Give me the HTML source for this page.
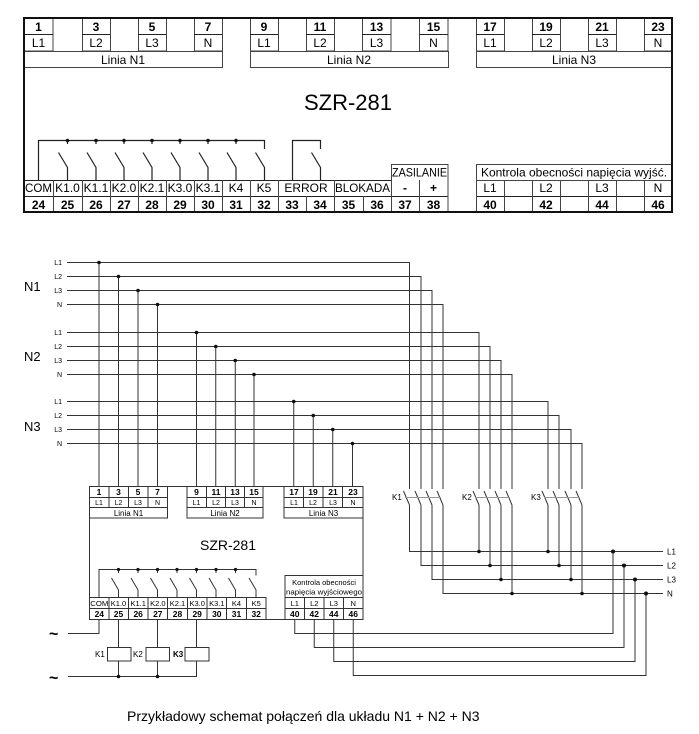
<!DOCTYPE html>
<html><head><meta charset="utf-8"><style>
html,body{margin:0;padding:0;background:#fff;}
svg{display:block;}
text{font-family:"Liberation Sans",Arial,sans-serif;fill:#000;}
.b{font-weight:bold;}
</style></head><body>
<svg width="699" height="734" viewBox="0 0 699 734" xmlns="http://www.w3.org/2000/svg">
<rect width="699" height="734" fill="#fff"/>
<!-- ===== TOP DEVICE ===== -->
<g fill="none" stroke="#444" stroke-width="1">
 <!-- top terminal cells -->
 <rect x="24.5" y="18.5" width="28.5" height="32.5"/><rect x="82.5" y="18.5" width="28" height="32.5"/><rect x="138.5" y="18.5" width="28" height="32.5"/><rect x="194.5" y="18.5" width="28" height="32.5"/>
 <rect x="250.5" y="18.5" width="28" height="32.5"/><rect x="306.5" y="18.5" width="28" height="32.5"/><rect x="362.5" y="18.5" width="28.5" height="32.5"/><rect x="419.5" y="18.5" width="28.5" height="32.5"/>
 <rect x="476.5" y="18.5" width="28" height="32.5"/><rect x="532.5" y="18.5" width="28" height="32.5"/><rect x="588.5" y="18.5" width="28" height="32.5"/><rect x="644.5" y="18.5" width="27.5" height="32.5"/>
 <path d="M24 34.5H53M82 34.5H110M138 34.5H166M194 34.5H222M250 34.5H278M306 34.5H334M362 34.5H391M419 34.5H448M476 34.5H504M532 34.5H560M588 34.5H616M644 34.5H672" stroke="#222"/>
 <rect x="24.5" y="51.5" width="198" height="16"/><rect x="250.5" y="51.5" width="198" height="16"/><rect x="476.5" y="51.5" width="195.5" height="16"/>
 <!-- bottom terminals -->
 <path d="M24 180.5H391M24 196.5H448M476 196.5H672" stroke="#222"/>
 <path d="M53.5 180V212M82.5 180V212M110.5 180V212M138.5 180V212M166.5 180V212M194.5 180V212M222.5 180V212M250.5 180V212M278.5 180V212M334.5 180V212M419.5 180V212"/>
 <path d="M306.5 196V212M363.5 196V212"/>
 <rect x="391.5" y="164.5" width="56.5" height="47.5"/>
 <rect x="476.5" y="164.5" width="195.5" height="47.5"/>
 <path d="M476 180.5H672M504.5 180V212M532.5 180V212M560.5 180V212M588.5 180V212M616.5 180V212M644.5 180V212"/>
</g>
<rect x="24" y="18" width="648" height="194" fill="none" stroke="#111" stroke-width="2"/>
<!-- top relays -->
<g fill="none" stroke="#222" stroke-width="1.2">
 <path d="M38.5 180V140.5H264.5V149"/>
 <path d="M67.5 140V144M96 140V144M124 140V144M152 140V144M180 140V144M208 140V144M236 140V144"/>
 <path d="M58.5 152.5L67.5 167.5V180M87 152.5L96 167.5V180M115 152.5L124 167.5V180M143 152.5L152 167.5V180M171 152.5L180 167.5V180M199 152.5L208 167.5V180M227 152.5L236 167.5V180M255.5 152.5L264.5 167.5V180"/>
 <path d="M292.5 180V140.5H320.5V149M311.5 152.5L320.5 167.5V180"/>
</g>
<g fill="#111">
 <circle cx="67.5" cy="140.5" r="1.8"/><circle cx="96" cy="140.5" r="1.8"/><circle cx="124" cy="140.5" r="1.8"/><circle cx="152" cy="140.5" r="1.8"/><circle cx="180" cy="140.5" r="1.8"/><circle cx="208" cy="140.5" r="1.8"/><circle cx="236" cy="140.5" r="1.8"/>
</g>
<!-- top texts -->
<g font-size="12" text-anchor="middle">
 <g class="b">
  <text x="38.5" y="31" class="b">1</text><text x="96" y="31" class="b">3</text><text x="152" y="31" class="b">5</text><text x="208" y="31" class="b">7</text>
  <text x="264" y="31" class="b">9</text><text x="320" y="31" class="b">11</text><text x="376.5" y="31" class="b">13</text><text x="433.5" y="31" class="b">15</text>
  <text x="490" y="31" class="b">17</text><text x="546" y="31" class="b">19</text><text x="602" y="31" class="b">21</text><text x="658" y="31" class="b">23</text>
 </g>
 <text x="38.5" y="47">L1</text><text x="96" y="47">L2</text><text x="152" y="47">L3</text><text x="208" y="47">N</text>
 <text x="264" y="47">L1</text><text x="320" y="47">L2</text><text x="376.5" y="47">L3</text><text x="433.5" y="47">N</text>
 <text x="490" y="47">L1</text><text x="546" y="47">L2</text><text x="602" y="47">L3</text><text x="658" y="47">N</text>
 <text x="123" y="64">Linia N1</text><text x="349" y="64">Linia N2</text><text x="574" y="64">Linia N3</text>
 <text x="348" y="110" font-size="22">SZR-281</text>
 <text x="38.5" y="192" textLength="27" lengthAdjust="spacingAndGlyphs">COM</text><text x="67.5" y="192">K1.0</text><text x="96" y="192">K1.1</text><text x="124" y="192">K2.0</text><text x="152" y="192">K2.1</text><text x="180" y="192">K3.0</text><text x="208" y="192">K3.1</text><text x="236" y="192">K4</text><text x="264" y="192">K5</text>
 <text x="306" y="192">ERROR</text><text x="362.5" y="192" textLength="55" lengthAdjust="spacingAndGlyphs">BLOKADA</text>
 <text x="405" y="192" class="b">-</text><text x="433.5" y="192" class="b">+</text>
 <text x="419.5" y="176.5" textLength="55" lengthAdjust="spacingAndGlyphs">ZASILANIE</text>
 <text x="574" y="176.5">Kontrola obecności napięcia wyjść.</text>
 <text x="490" y="192">L1</text><text x="546" y="192">L2</text><text x="602" y="192">L3</text><text x="658" y="192">N</text>
 <g class="b">
  <text x="38.5" y="209" class="b">24</text><text x="67.5" y="209" class="b">25</text><text x="96" y="209" class="b">26</text><text x="124" y="209" class="b">27</text><text x="152" y="209" class="b">28</text><text x="180" y="209" class="b">29</text><text x="208" y="209" class="b">30</text><text x="236" y="209" class="b">31</text><text x="264" y="209" class="b">32</text><text x="292" y="209" class="b">33</text><text x="320" y="209" class="b">34</text><text x="348.5" y="209" class="b">35</text><text x="377" y="209" class="b">36</text><text x="405" y="209" class="b">37</text><text x="433.5" y="209" class="b">38</text>
  <text x="490" y="209" class="b">40</text><text x="546" y="209" class="b">42</text><text x="602" y="209" class="b">44</text><text x="658" y="209" class="b">46</text>
 </g>
</g>

<!-- ===== LOWER DIAGRAM ===== -->
<g fill="none" stroke="#333" stroke-width="1">
 <!-- buses -->
 <path d="M67 262.5H409.5V489M67 276.5H421V489M67 290.5H432V489M67 304.5H443V489"/>
 <path d="M67 332.5H479V489M67 346.5H490V489M67 360.5H501V489M67 374.5H512V489"/>
 <path d="M67 401.5H548V489M67 415.5H559V489M67 429.5H571V489M67 443.5H582V489"/>
 <!-- drops -->
 <path d="M99 262V486M118.5 276V486M138 290V486M157.5 304V486M196.5 332V486M215.75 346V486M235.25 360V486M254 374V486M293.75 401V486M313.25 415V486M332.75 429V486M352.5 443V486"/>
 <!-- switch blades -->
 <path d="M403.5 491L409.5 505M415 491L421 505M426 491L432 505M437 491L443 505"/>
 <path d="M473 491L479 505M484 491L490 505M495 491L501 505M506 491L512 505"/>
 <path d="M542 491L548 505M553 491L559 505M565 491L571 505M576 491L582 505"/>
 <!-- lower switch legs -->
 <path d="M409.5 505V551.5H663M421 505V565.5H663M432 505V579.5H663M443 505V593.5H663"/>
 <path d="M479 505V551M490 505V565M501 505V579M512 505V593M548 505V551M559 505V565M571 505V579M582 505V593"/>
 <!-- kontrola wires -->
 <path d="M294.75 619V633.5H613V551M314.25 619V647.5H624V565M333.75 619V661.5H635V579M353.25 619V675.5H646V593"/>
</g>
<g stroke="#999" stroke-width="1">
 <path d="M405 497.5H441M475 497.5H510M544 497.5H580"/>
</g>
<g fill="#111">
 <circle cx="99" cy="262.5" r="1.8"/><circle cx="118.5" cy="276.5" r="1.8"/><circle cx="138" cy="290.5" r="1.8"/><circle cx="157.5" cy="304.5" r="1.8"/>
 <circle cx="196.5" cy="332.5" r="1.8"/><circle cx="215.75" cy="346.5" r="1.8"/><circle cx="235.25" cy="360.5" r="1.8"/><circle cx="254" cy="374.5" r="1.8"/>
 <circle cx="293.75" cy="401.5" r="1.8"/><circle cx="313.25" cy="415.5" r="1.8"/><circle cx="332.75" cy="429.5" r="1.8"/><circle cx="352.5" cy="443.5" r="1.8"/>
 <circle cx="479" cy="551.5" r="1.8"/><circle cx="490" cy="565.5" r="1.8"/><circle cx="501" cy="579.5" r="1.8"/><circle cx="512" cy="593.5" r="1.8"/>
 <circle cx="548" cy="551.5" r="1.8"/><circle cx="559" cy="565.5" r="1.8"/><circle cx="571" cy="579.5" r="1.8"/><circle cx="582" cy="593.5" r="1.8"/>
 <circle cx="613" cy="551.5" r="2"/><circle cx="624" cy="565.5" r="2"/><circle cx="635" cy="579.5" r="2"/><circle cx="646" cy="593.5" r="2"/>
</g>
<!-- bus labels -->
<g font-size="7" fill="#444" text-anchor="end">
 <text x="62" y="265">L1</text><text x="62" y="279">L2</text><text x="62" y="293">L3</text><text x="62" y="307">N</text>
 <text x="62" y="335">L1</text><text x="62" y="349">L2</text><text x="62" y="363">L3</text><text x="62" y="377">N</text>
 <text x="62" y="404">L1</text><text x="62" y="418">L2</text><text x="62" y="432">L3</text><text x="62" y="446">N</text>
</g>
<g font-size="13">
 <text x="24" y="291">N1</text><text x="24" y="361">N2</text><text x="24" y="431">N3</text>
</g>
<g font-size="8">
 <text x="667" y="554.5">L1</text><text x="667" y="568.5">L2</text><text x="667" y="582.5">L3</text><text x="667" y="596.5">N</text>
 <text x="392" y="500">K1</text><text x="462" y="500">K2</text><text x="531" y="500">K3</text>
</g>

<!-- lower device -->
<g fill="none" stroke="#333" stroke-width="1">
 <path d="M89.5 486.5H363V619.5H89.5Z"/>
 <rect x="89.5" y="486.5" width="78" height="31.5" fill="#fff"/>
 <rect x="187" y="486.5" width="76" height="31.5" fill="#fff"/>
 <rect x="284" y="486.5" width="79" height="31.5" fill="#fff"/>
 <path d="M89.5 497.5H167.5M89.5 507.5H167.5M187 497.5H263M187 507.5H263M284 497.5H363M284 507.5H363"/>
 <path d="M109 486V507M128.5 486V507M148 486V507M206.5 486V507M225.5 486V507M244.5 486V507M303.5 486V507M323 486V507M342.5 486V507"/>
 <!-- bottom terminals -->
 <rect x="89.5" y="597.5" width="176.5" height="22"/>
 <path d="M89.5 608.5H266M109 597V619M128.5 597V619M148 597V619M167.5 597V619M187.5 597V619M207 597V619M226.5 597V619M246.5 597V619"/>
 <rect x="285" y="575.5" width="78" height="44"/>
 <path d="M285 597.5H363M285 608.5H363M304.5 597V619M324 597V619M343.5 597V619"/>
 <!-- relays lower -->
 <path d="M99 597V569.5H256V575.5"/>
 <path d="M118.5 569V573M138 569V573M157.5 569V573M177 569V573M196.5 569V573M216 569V573M235.5 569V573"/>
 <path d="M111.5 578L118.5 590V597M131 578L138 590V597M150.5 578L157.5 590V597M170 578L177 590V597M189.5 578L196.5 590V597M209 578L216 590V597M228.5 578L235.5 590V597M249 578L256 590V597"/>
 <!-- coil wiring -->
 <path d="M99 619V633.5H68"/>
 <path d="M118.5 619V647M157.5 619V647M196.5 619V647"/>
 <rect x="107.5" y="647.5" width="23.5" height="13.5"/>
 <rect x="146" y="647.5" width="23.5" height="13.5"/>
 <rect x="185" y="647.5" width="24" height="13.5"/>
 <path d="M118.5 661V676.5M157.5 661V676.5M196.5 661V676.5H68"/>
</g>
<g fill="#111">
 <circle cx="118.5" cy="569.5" r="1.6"/><circle cx="138" cy="569.5" r="1.6"/><circle cx="157.5" cy="569.5" r="1.6"/><circle cx="177" cy="569.5" r="1.6"/><circle cx="196.5" cy="569.5" r="1.6"/><circle cx="216" cy="569.5" r="1.6"/><circle cx="235.5" cy="569.5" r="1.6"/>
 <circle cx="118.5" cy="676.5" r="1.8"/><circle cx="157.5" cy="676.5" r="1.8"/>
</g>
<g text-anchor="middle">
 <g font-size="8.5" class="b">
  <text x="99" y="495" class="b">1</text><text x="118.5" y="495" class="b">3</text><text x="138" y="495" class="b">5</text><text x="157.5" y="495" class="b">7</text>
  <text x="196.5" y="495" class="b">9</text><text x="216" y="495" class="b">11</text><text x="235" y="495" class="b">13</text><text x="254" y="495" class="b">15</text>
  <text x="294" y="495" class="b">17</text><text x="313" y="495" class="b">19</text><text x="333" y="495" class="b">21</text><text x="353" y="495" class="b">23</text>
 </g>
 <g font-size="7">
  <text x="99" y="505">L1</text><text x="118.5" y="505">L2</text><text x="138" y="505">L3</text><text x="157.5" y="505">N</text>
  <text x="196.5" y="505">L1</text><text x="216" y="505">L2</text><text x="235" y="505">L3</text><text x="254" y="505">N</text>
  <text x="294" y="505">L1</text><text x="313" y="505">L2</text><text x="333" y="505">L3</text><text x="353" y="505">N</text>
 </g>
 <g font-size="8">
  <text x="128.5" y="516">Linia N1</text><text x="225" y="516">Linia N2</text><text x="323.5" y="516">Linia N3</text>
 </g>
 <text x="228" y="550" font-size="14">SZR-281</text>
 <g font-size="7.5">
  <text x="99.3" y="606" textLength="18" lengthAdjust="spacingAndGlyphs">COM</text><text x="118.5" y="606">K1.0</text><text x="138.2" y="606">K1.1</text><text x="157.8" y="606">K2.0</text><text x="177.5" y="606">K2.1</text><text x="197.2" y="606">K3.0</text><text x="216.8" y="606">K3.1</text><text x="236.5" y="606">K4</text><text x="256.2" y="606">K5</text>
  <text x="294.75" y="606">L1</text><text x="314.25" y="606">L2</text><text x="333.75" y="606">L3</text><text x="353.25" y="606">N</text>
  <text x="324" y="585">Kontrola obecności</text>
  <text x="324" y="594.5" textLength="76" lengthAdjust="spacingAndGlyphs">napięcia wyjściowego</text>
 </g>
 <g font-size="8.5" class="b">
  <text x="99.3" y="617" class="b">24</text><text x="118.5" y="617" class="b">25</text><text x="138.2" y="617" class="b">26</text><text x="157.8" y="617" class="b">27</text><text x="177.5" y="617" class="b">28</text><text x="197.2" y="617" class="b">29</text><text x="216.8" y="617" class="b">30</text><text x="236.5" y="617" class="b">31</text><text x="256.2" y="617" class="b">32</text>
  <text x="294.75" y="617" class="b">40</text><text x="314.25" y="617" class="b">42</text><text x="333.75" y="617" class="b">44</text><text x="353.25" y="617" class="b">46</text>
 </g>
</g>
<g font-size="8">
 <text x="95" y="657">K1</text><text x="133" y="657">K2</text><text x="173" y="657" class="b">K3</text>
</g>
<g font-size="16" class="b">
 <text x="49" y="639" class="b">~</text><text x="49" y="683" class="b">~</text>
</g>
<text x="127" y="721" font-size="14">Przykładowy schemat połączeń dla układu N1 + N2 + N3</text>
</svg>
</body></html>
